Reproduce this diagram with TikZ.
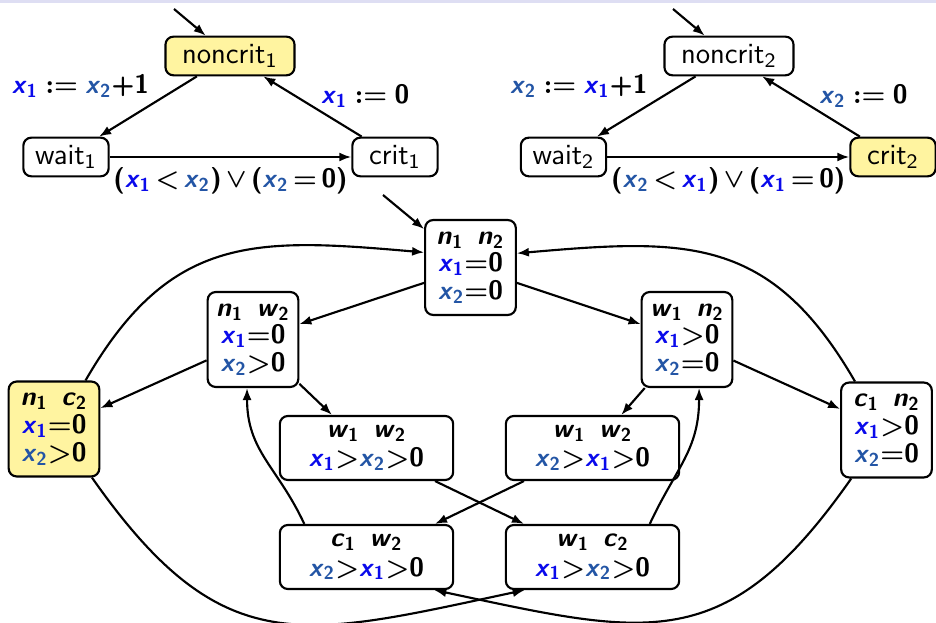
\documentclass[tikz,border=0pt]{standalone}
\usepackage{amsmath}
\usetikzlibrary{positioning, arrows.meta}

\definecolor{xone}{RGB}{10,10,235}
\definecolor{xtwo}{RGB}{35,85,165}
\definecolor{locfill}{RGB}{255,244,160}
\definecolor{bandcol}{RGB}{222,222,243}

\newcommand{\xa}{\textcolor{xone}{\textsl{x}\textsubscript{1}}}
\newcommand{\xb}{\textcolor{xtwo}{\textsl{x}\textsubscript{2}}}
\newcommand{\loc}[2]{\textsl{#1}\textsubscript{#2}}

\begin{document}
\begin{tikzpicture}[
    x=0.375pt, y=0.375pt,
    font=\fontsize{11}{13}\selectfont\sffamily,
    locbox/.style = {rectangle, draw, thick, rounded corners=3pt, fill=white, minimum height=14.5pt, minimum width=32pt, inner xsep=3.8pt, inner ysep=1pt},
    statebox/.style = {rectangle, draw, thick, rounded corners=3pt, fill=white, align=center, font=\fontsize{10}{10.4}\selectfont\sffamily\bfseries\boldmath, minimum width=34pt, minimum height=35.6pt, inner sep=2pt},
    widebox/.style = {statebox, font=\fontsize{10}{11}\selectfont\sffamily\bfseries\boldmath, minimum width=65pt, minimum height=24pt},
    hot/.style = {fill=locfill},
    lbl/.style = {font=\fontsize{10}{12}\selectfont\sffamily\bfseries\boldmath, inner sep=2pt},
    arrow/.style = {-{Latex[length=4.5pt, width=3.4pt]}, thick}
]
    \useasboundingbox (0,0) rectangle (936,-623);
    \fill[bandcol] (0,0) rectangle (936,-3.5);

    \node[locbox, hot, minimum width=48.4pt] (nc1) at (230,-56) {noncrit\textsubscript{1}};
    \node[locbox] (wt1) at (66,-157) {wait\textsubscript{1}};
    \node[locbox] (cr1) at (395,-157) {crit\textsubscript{1}};
    \node[locbox, minimum width=48.4pt] (nc2) at (729,-56) {noncrit\textsubscript{2}};
    \node[locbox] (wt2) at (563.5,-157) {wait\textsubscript{2}};
    \node[locbox, hot] (cr2) at (893,-157) {crit\textsubscript{2}};

    \coordinate (init1) at (174,-9);
    \coordinate (init2) at (673,-9);
    \coordinate (init0) at (383,-195);

    \draw[arrow] (init1) -- (nc1);
    \draw[arrow] (nc1) -- node[lbl, pos=0.45, above left=0pt and -1pt] (up1) {\xa\;$:=$\;\xb+1} (wt1);
    \draw[arrow] (wt1) -- node[lbl, below=1.5pt] (gd1) {(\xa\,$<$\,\xb)\,$\vee$\,(\xb\,$=$\,0)} (cr1);
    \draw[arrow] (cr1) -- node[lbl, pos=0.37, above right=0pt and -4pt] (rs1) {\xa\;$:=$\;0} (nc1);

    \draw[arrow] (init2) -- (nc2);
    \draw[arrow] (nc2) -- node[lbl, pos=0.45, above left=0pt and -1pt] (up2) {\xb\;$:=$\;\xa+1} (wt2);
    \draw[arrow] (wt2) -- node[lbl, below=1.5pt] (gd2) {(\xb\,$<$\,\xa)\,$\vee$\,(\xa\,$=$\,0)} (cr2);
    \draw[arrow] (cr2) -- node[lbl, pos=0.37, above right=0pt and -4pt] (rs2) {\xb\;$:=$\;0} (nc2);

    \node[statebox] (s00) at (470.5,-267.5) {\loc{n}{1}\enspace\loc{n}{2}\\ \xa${=}$0\\ \xb${=}$0};
    \node[statebox] (s01) at (253,-339.5) {\loc{n}{1}\enspace\loc{w}{2}\\ \xa${=}$0\\ \xb${>}$0};
    \node[statebox] (s10) at (687,-339.5) {\loc{w}{1}\enspace\loc{n}{2}\\ \xa${>}$0\\ \xb${=}$0};
    \node[statebox, hot] (s02) at (54,-429) {\loc{n}{1}\enspace\loc{c}{2}\\ \xa${=}$0\\ \xb${>}$0};
    \node[statebox] (s20) at (886.5,-430) {\loc{c}{1}\enspace\loc{n}{2}\\ \xa${>}$0\\ \xb${=}$0};
    \node[widebox] (s11a) at (366.5,-448) {\loc{w}{1}\enspace\loc{w}{2}\\ \xa${>}$\xb${>}$0};
    \node[widebox] (s11b) at (592.5,-448) {\loc{w}{1}\enspace\loc{w}{2}\\ \xb${>}$\xa${>}$0};
    \node[widebox] (s21) at (366.5,-557) {\loc{c}{1}\enspace\loc{w}{2}\\ \xb${>}$\xa${>}$0};
    \node[widebox] (s12) at (592.5,-557) {\loc{w}{1}\enspace\loc{c}{2}\\ \xa${>}$\xb${>}$0};

    \draw[arrow] (init0) -- (s00);
    \draw[arrow] (s00) -- (s01);
    \draw[arrow] (s00) -- (s10);
    \draw[arrow] (s01) -- (s02);
    \draw[arrow] (s01) -- (s11a);
    \draw[arrow] (s10) -- (s11b);
    \draw[arrow] (s10) -- (s20);
    \draw[arrow] (s11a) -- (s12);
    \draw[arrow] (s11b) -- (s21);
    \draw[arrow] (s21.152) to[out=115, in=-90, looseness=1.1] (s01.263);
    \draw[arrow] (s12.30) to[out=65, in=-90, looseness=1.1] (s10.284);
    \draw[arrow] (s02.57) to[out=60, in=175, looseness=1.2] (s00.162);
    \draw[arrow] (s20.123) to[out=120, in=5, looseness=1.2] (s00.17);
    \draw[arrow] (s02.308) to[out=-55, in=192, looseness=1.3] (s12.206);
    \draw[arrow] (s20.234) to[out=-125, in=-12, looseness=1.3] (s21.334);
\end{tikzpicture}
\end{document}
